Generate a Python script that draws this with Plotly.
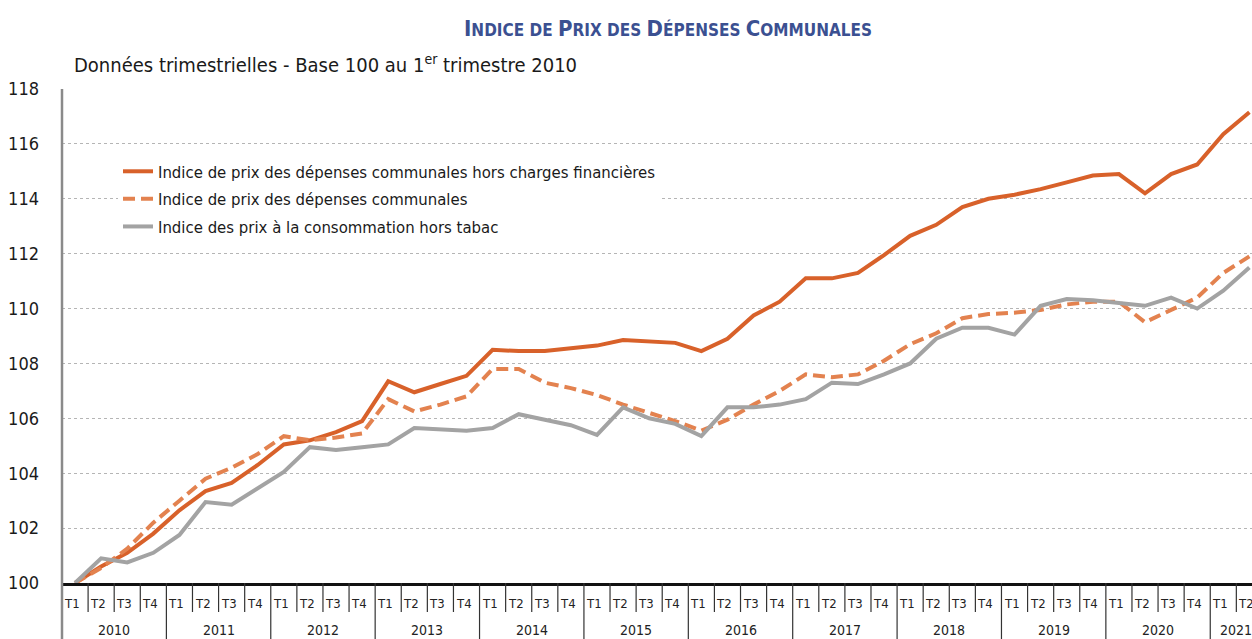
import plotly.graph_objects as go

# ---------------- data ----------------
years = [2010, 2011, 2012, 2013, 2014, 2015, 2016, 2017, 2018, 2019, 2020, 2021]
quarters = ["T1", "T2", "T3", "T4"]

ipdc_hors_cf = [100.0, 100.6, 101.1, 101.8, 102.65, 103.35, 103.65, 104.3,
                105.05, 105.2, 105.5, 105.9, 107.35, 106.95, 107.25, 107.55,
                108.5, 108.45, 108.45, 108.55, 108.65, 108.85, 108.8, 108.75,
                108.45, 108.9, 109.75, 110.25, 111.1, 111.1, 111.3, 111.95,
                112.65, 113.05, 113.7, 114.0, 114.15, 114.35, 114.6, 114.85,
                114.9, 114.2, 114.9, 115.25, 116.35, 117.15]

ipdc = [100.0, 100.55, 101.25, 102.2, 103.0, 103.8, 104.2, 104.7,
        105.35, 105.2, 105.3, 105.45, 106.7, 106.25, 106.5, 106.8,
        107.8, 107.8, 107.3, 107.1, 106.85, 106.5, 106.2, 105.9,
        105.55, 105.95, 106.5, 107.0, 107.6, 107.5, 107.6, 108.1,
        108.7, 109.1, 109.65, 109.8, 109.85, 109.95, 110.15, 110.25,
        110.25, 109.5, 109.95, 110.4, 111.3, 111.9]

ipc_hors_tabac = [100.0, 100.9, 100.75, 101.1, 101.75, 102.95, 102.85, 103.45,
                  104.05, 104.95, 104.85, 104.95, 105.05, 105.65, 105.6, 105.55,
                  105.65, 106.15, 105.95, 105.75, 105.4, 106.4, 106.0, 105.8,
                  105.35, 106.4, 106.4, 106.5, 106.7, 107.3, 107.25, 107.6,
                  108.0, 108.9, 109.3, 109.3, 109.05, 110.1, 110.35, 110.3,
                  110.2, 110.1, 110.4, 110.0, 110.65, 111.5]

names = ["Indice de prix des dépenses communales hors charges financières",
         "Indice de prix des dépenses communales",
         "Indice des prix à la consommation hors tabac"]

y_ticks = [100, 102, 104, 106, 108, 110, 112, 114, 116, 118]

# ---------------- derived ----------------
n = len(ipdc_hors_cf)
periods = [(y, q) for y in years for q in quarters][:n]
x = list(range(n))

FONT = "Liberation Sans Narrow, DejaVu Sans Condensed, Roboto Condensed, Arial Narrow, sans-serif"
ORANGE = "#d8612a"
ORANGE2 = "#e3824f"
GREY = "#a3a3a3"

W, H = 1252, 639
PL, PR, PT, PB = 62, 1252, 89, 583   # plot area in page pixels
ph = PB - PT
pw = PR - PL
XR = [-0.5, 45.1]

def py(pix):
    return (PB - pix) / ph

def px(pix):
    return (pix - PL) / pw

fig = go.Figure()
fig.add_trace(go.Scatter(x=x, y=ipdc_hors_cf, name=names[0], mode="lines",
                         legendgroup="a", line=dict(color=ORANGE, width=4)))
fig.add_trace(go.Scatter(x=x, y=ipdc, name=names[1], mode="lines",
                         legendgroup="b", line=dict(color=ORANGE2, width=4, dash="12px,6px")))
fig.add_trace(go.Scatter(x=x, y=ipc_hors_tabac, name=names[2], mode="lines",
                         legendgroup="c", line=dict(color=GREY, width=4)))

shapes = []
annotations = []
for k in range(1, n):
    is_year = (k % 4 == 0)
    shapes.append(dict(type="line", xref="x", yref="paper",
                       x0=k - 0.5, x1=k - 0.5, y0=0,
                       y1=py(640) if is_year else py(612),
                       line=dict(color="#333333", width=1.2)))
shapes.append(dict(type="line", xref="paper", yref="paper", x0=0, x1=0,
                   y0=py(640), y1=1, line=dict(color="#8a8a8a", width=2.5)))

for i, (yr, q) in enumerate(periods):
    annotations.append(dict(x=i, y=py(603), xref="x", yref="paper", text=q,
                            showarrow=False, xshift=-3, yanchor="middle",
                            font=dict(family=FONT, size=13, color="#222222")))
for yr in years:
    idx = [i for i, (yy, q) in enumerate(periods) if yy == yr]
    if idx:
        annotations.append(dict(x=(idx[0] + idx[-1]) / 2, y=py(630), xref="x",
                                yref="paper", text=str(yr), showarrow=False,
                                yanchor="middle",
                                font=dict(family=FONT, size=14, color="#222222")))

annotations.append(dict(x=px(72), y=py(64), xref="paper", yref="paper",
                        xanchor="left", yanchor="middle", showarrow=False,
                        text="Données trimestrielles - Base 100 au 1<sup>er</sup> trimestre 2010",
                        font=dict(family=FONT, size=20, color="#1a1a1a")))

sc = "font-size:17px"
title_text = ("I<span style='%s'>NDICE DE </span>P<span style='%s'>RIX DES </span>"
              "D<span style='%s'>ÉPENSES </span>C<span style='%s'>OMMUNALES</span>") % (sc, sc, sc, sc)

fig.update_layout(
    width=W, height=H,
    margin=dict(l=PL, r=W - PR, t=PT, b=H - PB),
    paper_bgcolor="white", plot_bgcolor="white",
    title=dict(text=title_text, x=668 / W, xanchor="center",
               y=1 - 28 / H, yanchor="middle",
               font=dict(family=FONT, size=22, color="#3b5091", weight="bold")),
    xaxis=dict(range=XR, showgrid=False, zeroline=False, showticklabels=False,
               ticks="", showline=True, linecolor="#111111", linewidth=2.5),
    yaxis=dict(range=[100, 118], tickvals=y_ticks, showgrid=True,
               gridcolor="#b5b5b5", griddash="dot", gridwidth=1, zeroline=False,
               showline=False, ticks="", ticklabelstandoff=22,
               tickfont=dict(family=FONT, size=18, color="#1a1a1a")),
    legend=dict(x=px(118), y=py(154), xanchor="left", yanchor="top",
                bgcolor="white", borderwidth=0, tracegroupgap=3,
                font=dict(family=FONT, size=16.6, color="#1a1a1a")),
    shapes=shapes, annotations=annotations,
    showlegend=True,
)

fig.write_html("out.html", config={"displayModeBar": False},
               post_script="document.body.style.margin='0';document.body.style.overflow='hidden';")
